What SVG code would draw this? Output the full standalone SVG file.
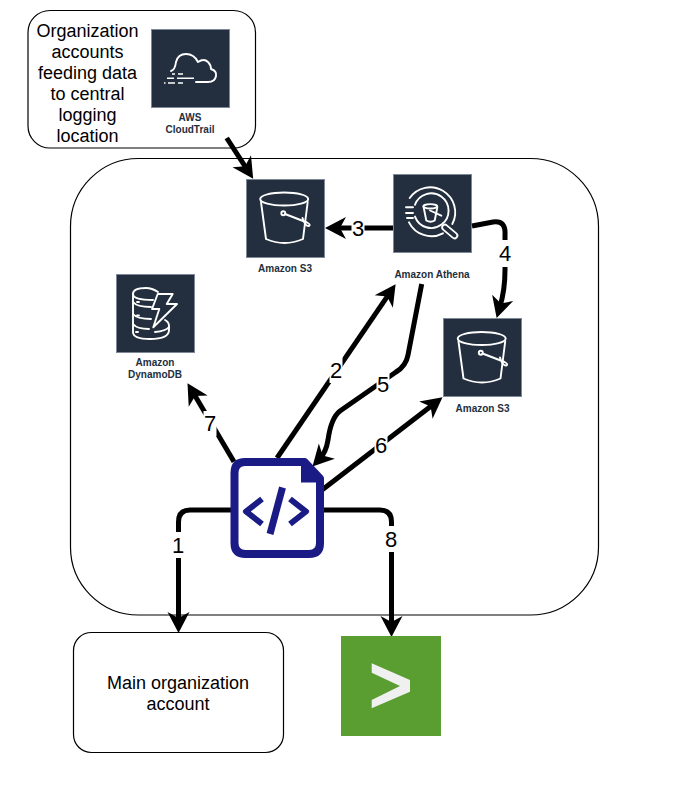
<svg xmlns="http://www.w3.org/2000/svg" width="682" height="802" viewBox="0 0 682 802">
<style>
text{font-family:"Liberation Sans",Arial,Helvetica,sans-serif;text-anchor:middle}
.box{fill:#fff;stroke:#000;stroke-width:1.2}
.t{font-size:18px;fill:#000}
.num{font-size:22px;fill:#000}
.cap{font-size:10px;font-weight:bold;fill:#232F3E}
.tile{fill:#232F3E;stroke:#7D8998;stroke-width:1}
.ico{fill:none;stroke:#fff;stroke-width:1.9;stroke-linecap:round;stroke-linejoin:round}
.dash{fill:none;stroke:#fff;stroke-width:1.6}
.c{fill:none;stroke:#000;stroke-width:5}
.lb{fill:#fff}
.doc{fill:none;stroke:#1B1B85;stroke-linejoin:round}
</style>
<defs>
<marker id="a" markerUnits="userSpaceOnUse" markerWidth="24" markerHeight="24" refX="10" refY="12" orient="auto" overflow="visible">
<path d="M0,1 L6,12 L0,23 L21,12 Z" fill="#000"/>
</marker>
<symbol id="bucket" overflow="visible">
<ellipse cx="38.200" cy="20" rx="24" ry="6.500" class="ico"/>
<path class="ico" d="M15,23 L20,60 Q38.500,68 57,60 L61.700,23"/>
<circle cx="37.300" cy="34.300" r="2" class="ico"/>
<path class="ico" d="M39,35 L61,43.500 Q65,45.500 63,47 Q59,47.500 56.500,39"/>
</symbol>
</defs>

<g id="central-account"><rect class="box" x="70.500" y="158.500" width="528" height="456.500" rx="68" ry="68"/></g>

<g id="org-accounts">
<rect class="box" x="28" y="10.500" width="227.500" height="137.500" rx="22" ry="22"/>
<text class="t"><tspan x="87.500" y="37">Organization</tspan><tspan x="87.500" y="58">accounts</tspan><tspan x="87.500" y="79">feeding data</tspan><tspan x="87.500" y="100">to central</tspan><tspan x="87.500" y="121">logging</tspan><tspan x="87.500" y="142">location</tspan></text>
</g>

<g id="cloudtrail">
<rect class="tile" x="151.500" y="29.500" width="78" height="78"/>
<path class="ico" d="M171,71 Q175,70 176,62 Q178,54 186,54 Q194,54 198,62 Q204,58 208,62 Q211,65 211,69 Q217,71 216,76 Q215,82 208,82 H196"/>
<path class="dash" d="M172,74 H175 M178,74 H183 M167,78.300 H174 M177,78.300 H194 M164,83 H165.500 M168,83 H175 M178,83 H183"/>
<text class="cap"><tspan x="190" y="121">AWS</tspan><tspan x="190" y="133">CloudTrail</tspan></text>
</g>

<g id="s3-logs">
<rect class="tile" x="246.500" y="179.500" width="78" height="78"/>
<use href="#bucket" x="246" y="179"/>
<text class="cap" x="285" y="272">Amazon S3</text>
</g>

<g id="athena">
<rect class="tile" x="393.500" y="174.500" width="78" height="78"/>
<path class="ico" d="M409.700,198 A25,25 0 0 1 452.300,224"/>
<path class="ico" d="M409,222.300 A25,25 0 0 0 443,233.300"/>
<path class="ico" d="M415,204.800 A17.300,17.300 0 1 1 415,216.600"/>
<path class="ico" d="M406,207.300 H413 M406,213 H413 M407,218 H413"/>
<ellipse class="ico" cx="430.300" cy="206.300" rx="7" ry="2.200"/>
<path class="ico" d="M423.700,207.500 L426.300,220.500 Q430.500,223 434.700,220.500 L437.300,207.500"/>
<path class="ico" d="M430,210.500 L441.300,215.700"/>
<path d="M445,227.500 L454.500,235.500" fill="none" stroke="#fff" stroke-width="7.500" stroke-linecap="round"/>
<path d="M445,227.500 L454.500,235.500" fill="none" stroke="#232F3E" stroke-width="3.800" stroke-linecap="round"/>
<text class="cap" x="432" y="278">Amazon Athena</text>
</g>

<g id="s3-results">
<rect class="tile" x="443.500" y="318.500" width="78" height="78"/>
<use href="#bucket" x="443.500" y="318.500"/>
<text class="cap" x="482.500" y="412">Amazon S3</text>
</g>

<g id="dynamodb">
<rect class="tile" x="116.500" y="274.500" width="78" height="78"/>
<path class="ico" d="M158,292 Q152,288 146,288 Q133,288 133,294 Q133,300 153,300"/>
<path class="ico" d="M133,294 V332 Q133,339 150,339 Q169,339 169,330 V326 Q169,322 165,320"/>
<path class="ico" d="M133,302 Q137,307 151,307 M133,314 Q137,319 151,319 M133,324 Q137,329 149,329 M169,327 Q166,331 155,332"/>
<path class="ico" d="M137,302 H139 M137,315.500 H139 M136,332 H138"/>
<path class="ico" d="M157.700,294 H172.700 L166.700,304 H177 L153.300,327.300 L159.300,309 H152 Z"/>
<text class="cap"><tspan x="155" y="366">Amazon</tspan><tspan x="155" y="378">DynamoDB</tspan></text>
</g>

<g id="connectors">
<path class="c" marker-end="url(#a)" d="M226.700,138 L247.200,169.600"/>
<path class="c" marker-end="url(#a)" d="M393,228 H336"/>
<path class="c" marker-end="url(#a)" d="M472,226 L493,222 Q506,220 505,235 L505,270 Q505,290 499.800,307.400"/>
<path class="c" marker-end="url(#a)" d="M277,458 L389.400,293.300"/>
<path class="c" marker-end="url(#a)" d="M421.700,284 L408,355 Q406,366 396,372 L340,411 Q331,418 328,440 Q326,452 320,458.400"/>
<path class="c" marker-end="url(#a)" d="M320.700,491 L433.800,404"/>
<path class="c" marker-end="url(#a)" d="M234,461.700 L193.100,392.600"/>
<path class="c" marker-end="url(#a)" d="M231,510 H190 Q178.500,510 178.500,522 V622"/>
<path class="c" marker-end="url(#a)" d="M324,510 H380 Q391.500,510 391.500,522 V626"/>
<g id="connector-labels">
<rect class="lb" x="351.500" y="216" width="13" height="24"/><text class="num" x="358" y="236">3</text>
<rect class="lb" x="498.500" y="240" width="13" height="27"/><text class="num" x="505" y="261">4</text>
<rect class="lb" x="329.500" y="357" width="13" height="26"/><text class="num" x="336" y="378">2</text>
<rect class="lb" x="376.500" y="372" width="13" height="25"/><text class="num" x="383" y="392">5</text>
<rect class="lb" x="374.500" y="433" width="13" height="25"/><text class="num" x="381" y="453">6</text>
<rect class="lb" x="203.500" y="411" width="13" height="25"/><text class="num" x="210" y="431">7</text>
<rect class="lb" x="171.500" y="532" width="13" height="26"/><text class="num" x="178" y="553">1</text>
<rect class="lb" x="384.500" y="526" width="13" height="26"/><text class="num" x="391" y="547">8</text>
</g>
</g>

<g id="lambda-code">
<path d="M245,462 H304.500 L320,478.500 V543 Q320,554 309,554 H245.500 Q234.500,554 234.500,543 V473 Q234.500,462 245,462 Z" fill="#fff" stroke="#1B1B85" stroke-width="8" stroke-linejoin="round"/>
<path d="M301,463 L323,482.500 H301 Z" fill="#1B1B85"/>
<path class="doc" stroke-width="6" d="M262,499 L246,511.500 L262,524"/>
<path class="doc" stroke-width="6" d="M290,499 L306,511.500 L290,524"/>
<path class="doc" stroke-width="7" d="M282.500,487.500 L270,534"/>
</g>

<g id="main-account">
<rect class="box" x="73.500" y="632.500" width="210" height="120" rx="18" ry="18"/>
<text class="t"><tspan x="178" y="689">Main organization</tspan><tspan x="178" y="710">account</tspan></text>
</g>

<g id="splunk">
<rect x="341" y="636" width="100" height="100" fill="#5A9E32"/>
<polygon points="371.700,663.300 410,680 410,691.700 371.700,708.300 371.700,700 400,686 371.700,672.700" fill="#F0F0F0"/>
</g>
</svg>
